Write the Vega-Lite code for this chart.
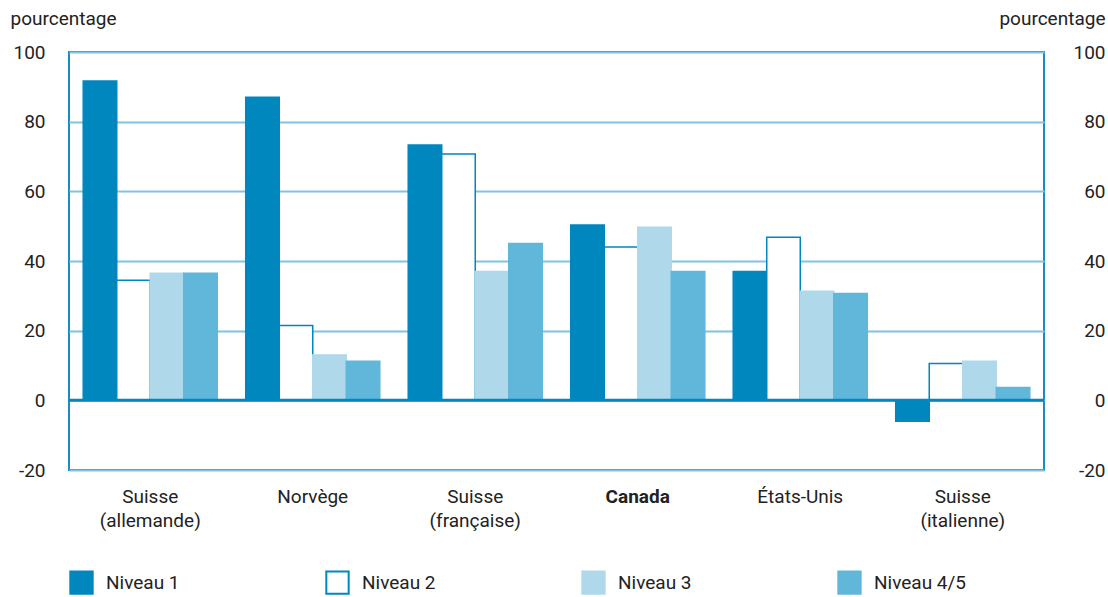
{
  "$schema": "https://vega.github.io/schema/vega-lite/v6.json",
  "width": 975,
  "height": 418,
  "autosize": {"type": "none"},
  "padding": {"left": 69, "top": 52, "right": 64, "bottom": 127},
  "config": {
    "font": "Roboto",
    "view": {"stroke": "#1a8cc4", "strokeWidth": 2}
  },
  "data": {
    "values": [
      {"pays": "Suisse|(allemande)", "niveau": "Niveau 1", "valeur": 91.7},
      {"pays": "Suisse|(allemande)", "niveau": "Niveau 2", "valeur": 34.5},
      {"pays": "Suisse|(allemande)", "niveau": "Niveau 3", "valeur": 36.5},
      {"pays": "Suisse|(allemande)", "niveau": "Niveau 4/5", "valeur": 36.5},
      {"pays": "Norvège", "niveau": "Niveau 1", "valeur": 87.0},
      {"pays": "Norvège", "niveau": "Niveau 2", "valeur": 21.5},
      {"pays": "Norvège", "niveau": "Niveau 3", "valeur": 13.0},
      {"pays": "Norvège", "niveau": "Niveau 4/5", "valeur": 11.2},
      {"pays": "Suisse|(française)", "niveau": "Niveau 1", "valeur": 73.3},
      {"pays": "Suisse|(française)", "niveau": "Niveau 2", "valeur": 70.7},
      {"pays": "Suisse|(française)", "niveau": "Niveau 3", "valeur": 37.0},
      {"pays": "Suisse|(française)", "niveau": "Niveau 4/5", "valeur": 45.0},
      {"pays": "Canada", "niveau": "Niveau 1", "valeur": 50.3},
      {"pays": "Canada", "niveau": "Niveau 2", "valeur": 44.0},
      {"pays": "Canada", "niveau": "Niveau 3", "valeur": 49.7},
      {"pays": "Canada", "niveau": "Niveau 4/5", "valeur": 37.0},
      {"pays": "États-Unis", "niveau": "Niveau 1", "valeur": 37.0},
      {"pays": "États-Unis", "niveau": "Niveau 2", "valeur": 46.8},
      {"pays": "États-Unis", "niveau": "Niveau 3", "valeur": 31.3},
      {"pays": "États-Unis", "niveau": "Niveau 4/5", "valeur": 30.7},
      {"pays": "Suisse|(italienne)", "niveau": "Niveau 1", "valeur": -6.0},
      {"pays": "Suisse|(italienne)", "niveau": "Niveau 2", "valeur": 10.6},
      {"pays": "Suisse|(italienne)", "niveau": "Niveau 3", "valeur": 11.2},
      {"pays": "Suisse|(italienne)", "niveau": "Niveau 4/5", "valeur": 3.7}
    ]
  },
  "layer": [
    {
      "mark": {"type": "bar", "strokeWidth": 1.5},
      "encoding": {
        "x": {
          "field": "pays",
          "type": "nominal",
          "sort": null,
          "scale": {"paddingInner": 0.175, "paddingOuter": 0.0875},
          "axis": {
            "title": null,
            "labelAngle": 0,
            "labelExpr": "split(datum.label, '|')",
            "labelFontSize": 19,
            "labelColor": "#222222",
            "labelPadding": 17,
            "labelLineHeight": 24,
            "labelFontWeight": {"condition": {"test": "datum.label == 'Canada'", "value": "bold"}, "value": "normal"},
            "ticks": false,
            "domain": false
          }
        },
        "xOffset": {"field": "niveau", "type": "nominal", "sort": ["Niveau 1", "Niveau 2", "Niveau 3", "Niveau 4/5"]},
        "y": {
          "field": "valeur",
          "type": "quantitative",
          "scale": {"domain": [-20, 100], "nice": false},
          "axis": {
            "orient": "left",
            "values": [-20, 0, 20, 40, 60, 80, 100],
            "labelExpr": "replace(datum.label, '−', '-')",
            "title": "pourcentage",
            "titleAngle": 0,
            "titleFontWeight": "normal",
            "titleFontSize": 19,
            "titleColor": "#222222",
            "titleAlign": "left",
            "titleBaseline": "alphabetic",
            "titleX": -59,
            "titleY": -28,
            "labelFontSize": 19,
            "labelColor": "#222222",
            "labelPadding": 24,
            "ticks": false,
            "domain": false,
            "grid": true,
            "gridColor": "#7fc4e0",
            "gridWidth": 2
          }
        },
        "fill": {
          "field": "niveau",
          "type": "nominal",
          "scale": {"domain": ["Niveau 1", "Niveau 2", "Niveau 3", "Niveau 4/5"], "range": ["#0087be", "#ffffff", "#afd8ea", "#60b7da"]},
          "legend": {
            "title": null,
            "orient": "bottom",
            "direction": "horizontal",
            "columns": 4,
            "gridAlign": "all",
            "columnPadding": 123,
            "symbolType": "square",
            "symbolSize": 500,
            "symbolStrokeWidth": 2,
            "labelFontSize": 19,
            "labelColor": "#222222",
            "labelOffset": 12,
            "offset": 40
          }
        },
        "stroke": {
          "field": "niveau",
          "type": "nominal",
          "scale": {"domain": ["Niveau 1", "Niveau 2", "Niveau 3", "Niveau 4/5"], "range": ["#0087be", "#0087be", "#afd8ea", "#60b7da"]},
          "legend": null
        }
      }
    },
    {
      "data": {"values": [{"v": 0}]},
      "mark": {"type": "rule", "color": "#0087be", "strokeWidth": 3},
      "encoding": {
        "y": {
          "field": "v",
          "type": "quantitative",
          "scale": {"domain": [-20, 100], "nice": false},
          "axis": {
            "orient": "right",
            "values": [-20, 0, 20, 40, 60, 80, 100],
            "labelExpr": "replace(datum.label, '−', '-')",
            "title": "pourcentage",
            "titleAngle": 0,
            "titleFontWeight": "normal",
            "titleFontSize": 19,
            "titleColor": "#222222",
            "titleAlign": "right",
            "titleBaseline": "alphabetic",
            "titleX": 61,
            "titleY": -28,
            "labelFontSize": 19,
            "labelColor": "#222222",
            "labelAlign": "right",
            "labelPadding": 61,
            "ticks": false,
            "domain": false,
            "grid": false
          }
        }
      }
    }
  ],
  "resolve": {"scale": {"y": "independent"}}
}
